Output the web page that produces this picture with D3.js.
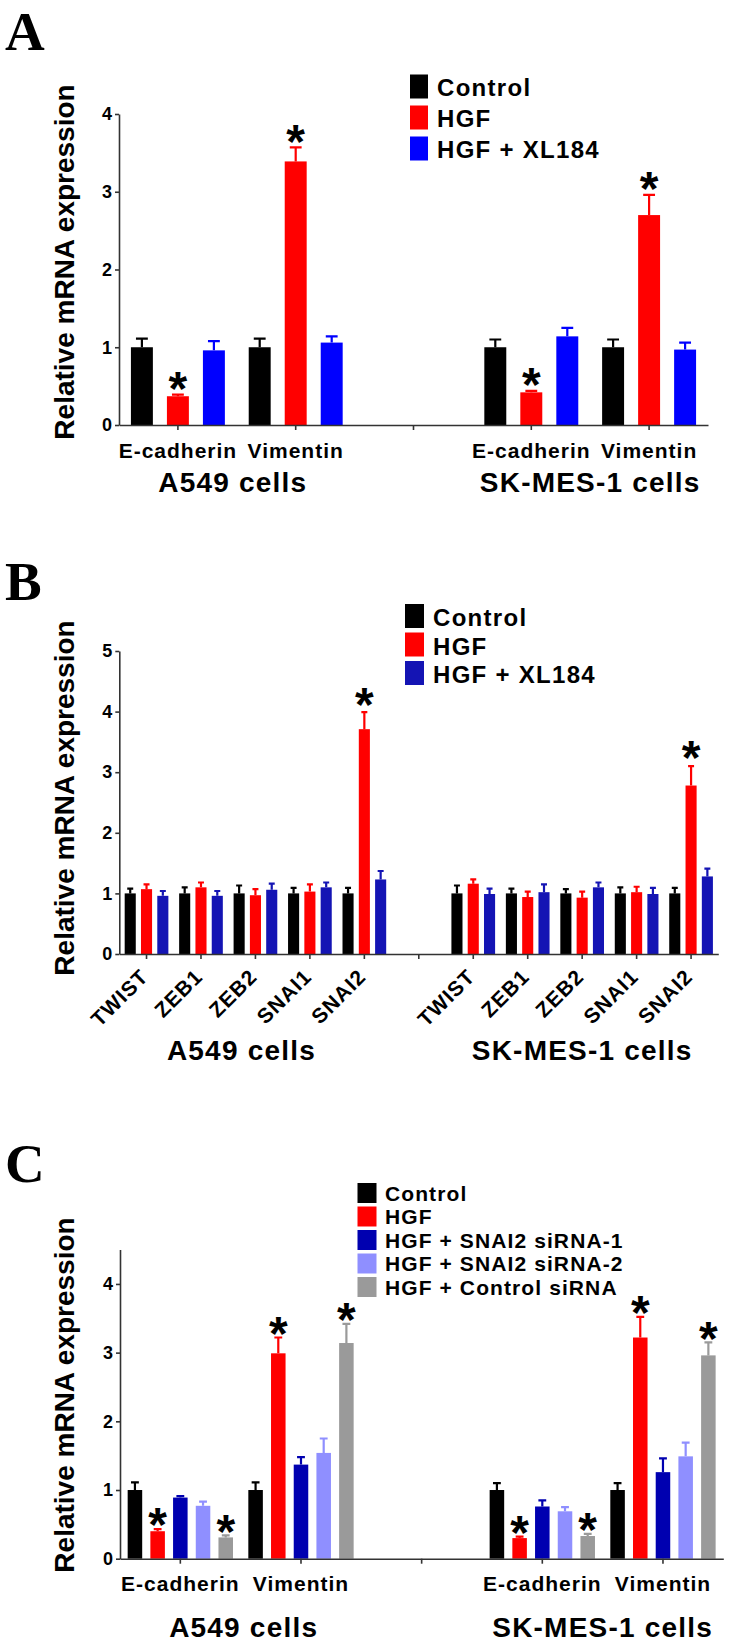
<!DOCTYPE html>
<html>
<head>
<meta charset="utf-8">
<script src="https://cdn.jsdelivr.net/npm/d3@7"></script>
<style>
  html, body { margin: 0; padding: 0; background: #fff; }
  svg { display: block; font-family: 'Liberation Sans', Arial, sans-serif; }
</style>
</head>
<body>
<div id="chart"></div>
<script>
// ---- data ----
const cellLines = ['A549 cells', 'SK-MES-1 cells'];

// panel A
const seriesA = ['Control', 'HGF', 'HGF + XL184'];
const colorsA = ['#000000', '#ff0000', '#0000ff'];
const genesA = ['E-cadherin', 'Vimentin'];
// [cell line][gene][series]
const meanA = [
  [[1.0, 0.37, 0.96], [1.0, 3.39, 1.06]],
  [[1.0, 0.42, 1.14], [1.0, 2.70, 0.97]]
];
const semA = [
  [[0.11, 0.02, 0.12], [0.11, 0.18, 0.08]],
  [[0.10, 0.02, 0.11], [0.10, 0.26, 0.09]]
];
const sigA = [
  [[0, 1, 0], [0, 1, 0]],
  [[0, 1, 0], [0, 1, 0]]
];
const yTicksA = [0, 1, 2, 3, 4];

// panel B
const seriesB = ['Control', 'HGF', 'HGF + XL184'];
const colorsB = ['#000000', '#ff0000', '#1414b4'];
const genesB = ['TWIST', 'ZEB1', 'ZEB2', 'SNAI1', 'SNAI2'];
const meanB = [
  [[1.0, 1.07, 0.96], [1.0, 1.10, 0.96], [1.0, 0.97, 1.06], [1.0, 1.03, 1.10], [1.0, 3.71, 1.23]],
  [[1.0, 1.16, 0.99], [1.0, 0.94, 1.02], [1.0, 0.93, 1.10], [1.0, 1.02, 0.99], [1.0, 2.78, 1.28]]
];
const semB = [
  [[0.08, 0.08, 0.08], [0.10, 0.08, 0.08], [0.13, 0.10, 0.10], [0.09, 0.12, 0.08], [0.09, 0.28, 0.14]],
  [[0.13, 0.07, 0.09], [0.08, 0.09, 0.13], [0.07, 0.10, 0.08], [0.10, 0.09, 0.10], [0.09, 0.32, 0.13]]
];
const sigB = [
  [[0, 0, 0], [0, 0, 0], [0, 0, 0], [0, 0, 0], [0, 1, 0]],
  [[0, 0, 0], [0, 0, 0], [0, 0, 0], [0, 0, 0], [0, 1, 0]]
];
const yTicksB = [0, 1, 2, 3, 4, 5];

// panel C
const seriesC = ['Control', 'HGF', 'HGF + SNAI2 siRNA-1', 'HGF + SNAI2 siRNA-2', 'HGF + Control siRNA'];
const colorsC = ['#000000', '#ff0000', '#0000b0', '#8f8fff', '#9a9a9a'];
const genesC = ['E-cadherin', 'Vimentin'];
const meanC = [
  [[1.0, 0.40, 0.89, 0.77, 0.31], [1.0, 2.99, 1.37, 1.54, 3.14]],
  [[1.0, 0.30, 0.76, 0.69, 0.33], [1.0, 3.22, 1.26, 1.49, 2.96]]
];
const semC = [
  [[0.11, 0.03, 0.02, 0.06, 0.03], [0.11, 0.23, 0.11, 0.21, 0.28]],
  [[0.10, 0.02, 0.09, 0.06, 0.03], [0.10, 0.30, 0.20, 0.20, 0.19]]
];
const sigC = [
  [[0, 1, 0, 0, 1], [0, 1, 0, 0, 1]],
  [[0, 1, 0, 0, 1], [0, 1, 0, 0, 1]]
];
const yTicksC = [0, 1, 2, 3, 4];

const yLabel = 'Relative mRNA expression';

// ---- drawing ----
const svg = d3.select('#chart').append('svg')
  .attr('width', 735)
  .attr('height', 1650);

function drawPanel(p) {
  const g = svg.append('g');

  // categories: genes of each cell line, with one empty slot between
  const keys = [];
  cellLines.forEach((c, ci) => {
    if (ci > 0) keys.push('gap');
    p.genes.forEach(gn => keys.push(c + '|' + gn));
  });

  const x = d3.scaleBand().domain(keys).range([p.x0, p.x1]);
  const y = d3.scaleLinear().domain([0, p.yMax]).range([p.y0, p.yTop]);
  const n = p.series.length;
  const inner = d3.scaleBand()
    .domain(p.series)
    .range([-p.pitch * n / 2, p.pitch * n / 2])
    .paddingInner(p.pad)
    .paddingOuter(p.pad / 2);
  const color = d3.scaleOrdinal().domain(p.series).range(p.colors);

  const rows = [];
  cellLines.forEach((c, ci) => {
    p.genes.forEach((gn, gi) => {
      p.series.forEach((s, si) => {
        rows.push({
          key: c + '|' + gn, s,
          mean: p.mean[ci][gi][si],
          sem: p.sem[ci][gi][si],
          sig: p.sig[ci][gi][si]
        });
      });
    });
  });
  const cx = d => x(d.key) + x.bandwidth() / 2 + inner(d.s) + inner.bandwidth() / 2;

  // bars
  g.selectAll('rect.bar').data(rows).enter().append('rect')
    .attr('class', 'bar')
    .attr('x', d => x(d.key) + x.bandwidth() / 2 + inner(d.s))
    .attr('y', d => y(d.mean))
    .attr('width', inner.bandwidth())
    .attr('height', d => y(0) - y(d.mean))
    .attr('fill', d => color(d.s));

  // upper error bars
  const cap = inner.bandwidth() * 0.27;
  g.selectAll('path.err').data(rows).enter().append('path')
    .attr('d', d => {
      const xm = cx(d), yt = y(d.mean + d.sem);
      return `M${xm},${y(d.mean)}V${yt}M${xm - cap},${yt}H${xm + cap}`;
    })
    .attr('stroke', d => color(d.s))
    .attr('stroke-width', 2.2)
    .attr('fill', 'none');

  // significance marks
  g.selectAll('text.sig').data(rows.filter(d => d.sig)).enter().append('text')
    .attr('x', d => cx(d))
    .attr('y', d => y(d.mean + d.sem) - p.starGap + 0.59 * p.starSize)
    .attr('text-anchor', 'middle')
    .style('font-size', p.starSize + 'px')
    .style('font-weight', 'bold')
    .text('*');

  // y axis
  const yAx = g.append('g')
    .attr('transform', `translate(${p.x0},0)`)
    .call(d3.axisLeft(y).tickValues(p.yTicks).tickFormat(d3.format('d')).tickSize(4).tickSizeOuter(0).tickPadding(3));
  yAx.selectAll('path, line').attr('stroke', '#333').attr('stroke-width', 1.6);
  yAx.selectAll('text').style('font-size', '18px').style('font-weight', 'bold').attr('fill', '#000');

  // x axis
  const xAx = g.append('g')
    .attr('transform', `translate(0,${p.y0})`)
    .call(d3.axisBottom(x).tickSize(5).tickSizeOuter(0).tickFormat(k => k.split('|')[1] || ''));
  xAx.selectAll('path, line').attr('stroke', '#333').attr('stroke-width', 1.6);
  const xt = xAx.selectAll('text')
    .attr('fill', '#000')
    .style('font-weight', 'bold')
    .style('font-size', p.catSize + 'px')
    .style('letter-spacing', p.catSpacing + 'px');
  if (p.rotate) {
    xt.attr('y', 0).attr('dy', 0)
      .attr('text-anchor', 'end')
      .attr('transform', `translate(${p.rotDx},${p.rotDy}) rotate(-45)`);
  } else {
    xt.attr('y', p.catDy).attr('dy', 0);
  }

  // cell line labels
  cellLines.forEach((c, ci) => {
    const first = x(c + '|' + p.genes[0]);
    const last = x(c + '|' + p.genes[p.genes.length - 1]) + x.bandwidth();
    g.append('text')
      .attr('x', (first + last) / 2 + p.cellDx[ci])
      .attr('y', p.cellY)
      .attr('text-anchor', 'middle')
      .style('font-size', '28px')
      .style('font-weight', 'bold')
      .style('letter-spacing', '1.2px')
      .text(c);
  });

  // y label
  g.append('text')
    .attr('transform', `translate(74,${p.ylabY}) rotate(-90)`)
    .attr('text-anchor', 'middle')
    .style('font-size', '28px')
    .style('font-weight', 'bold')
    .text(yLabel);

  // panel letter
  g.append('text')
    .attr('x', 5)
    .attr('y', p.letterY)
    .style('font-family', "'Liberation Serif', 'Times New Roman', serif")
    .style('font-size', '55px')
    .style('font-weight', 'bold')
    .text(p.letter);

  // legend
  const lg = g.append('g').attr('transform', `translate(${p.legX},${p.legY})`);
  const items = lg.selectAll('g').data(p.series).enter().append('g')
    .attr('transform', (d, i) => `translate(0,${i * p.legPitch})`);
  items.append('rect')
    .attr('width', p.swW).attr('height', p.swH)
    .attr('fill', d => color(d));
  items.append('text')
    .attr('x', p.legTextDx)
    .attr('y', p.legBase)
    .style('font-size', p.legSize + 'px')
    .style('font-weight', 'bold')
    .style('letter-spacing', p.legSpacing + 'px')
    .text(d => d);
}

drawPanel({
  letter: 'A', letterY: 50,
  series: seriesA, colors: colorsA, genes: genesA,
  mean: meanA, sem: semA, sig: sigA,
  yMax: 4, yTicks: yTicksA,
  x0: 119, x1: 708, y0: 425, yTop: 114,
  pitch: 36, pad: 0.39,
  catSize: 21, catSpacing: 1, catDy: 33,
  cellY: 492, cellDx: [-4, 0], ylabY: 262,
  starSize: 48, starGap: 18,
  legX: 410, legY: 74.5, legPitch: 31, swW: 18, swH: 24,
  legTextDx: 27, legBase: 21.5, legSize: 24, legSpacing: 1.3
});

drawPanel({
  letter: 'B', letterY: 600,
  series: seriesB, colors: colorsB, genes: genesB,
  mean: meanB, sem: semB, sig: sigB,
  yMax: 5, yTicks: yTicksB,
  x0: 119.3, x1: 718.3, y0: 954, yTop: 651,
  pitch: 16.3, pad: 0.32,
  catSize: 21, catSpacing: 1, rotate: true, rotDx: 3, rotDy: 24,
  cellY: 1060, cellDx: [-14, 0], ylabY: 798,
  starSize: 48, starGap: 20,
  legX: 405, legY: 604, legPitch: 28.5, swW: 19, swH: 24,
  legTextDx: 28, legBase: 22, legSize: 24, legSpacing: 1.3
});

drawPanel({
  letter: 'C', letterY: 1182,
  series: seriesC, colors: colorsC, genes: genesC,
  mean: meanC, sem: semC, sig: sigC,
  yMax: 4.5, yTicks: yTicksC,
  x0: 120, x1: 723.3, y0: 1558.7, yTop: 1249.6,
  pitch: 22.7, pad: 0.36,
  catSize: 21, catSpacing: 1, catDy: 32,
  cellY: 1637, cellDx: [3, 0], ylabY: 1395,
  starSize: 48, starGap: 16,
  legX: 357.5, legY: 1183, legPitch: 23.5, swW: 19, swH: 20,
  legTextDx: 27.5, legBase: 17.5, legSize: 21, legSpacing: 1.1
});
</script>
</body>
</html>
